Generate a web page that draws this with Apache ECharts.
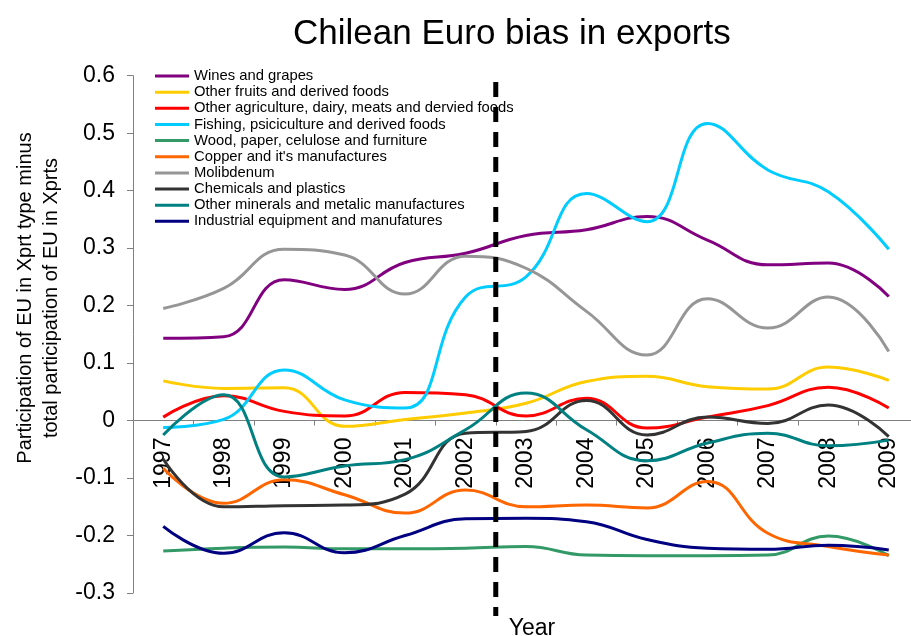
<!DOCTYPE html>
<html>
<head>
<meta charset="utf-8">
<script src="https://cdn.jsdelivr.net/npm/echarts@6/dist/echarts.min.js"></script>
<style>
html,body{margin:0;padding:0;background:#fff;}
#chart{width:911px;height:636px;}
</style>
</head>
<body>
<div id="chart"></div>
<script>
const years = ['1997','1998','1999','2000','2001','2002','2003','2004','2005','2006','2007','2008','2009'];
const yTicks = { min: -0.3, max: 0.6, interval: 0.1 };
const dividerBetween = ['2002', '2003'];

const winesAndGrapes   = [0.143, 0.146, 0.245, 0.228, 0.275, 0.291, 0.322, 0.332, 0.355, 0.314, 0.271, 0.274, 0.216];
const otherFruits      = [0.069, 0.056, 0.057, -0.010, 0.002, 0.013, 0.030, 0.068, 0.077, 0.059, 0.055, 0.093, 0.070];
const otherAgriculture = [0.006, 0.043, 0.016, 0.008, 0.049, 0.045, 0.008, 0.039, -0.013, 0.006, 0.026, 0.058, 0.022];
const fishing          = [-0.012, 0.002, 0.088, 0.036, 0.022, 0.215, 0.250, 0.395, 0.346, 0.517, 0.436, 0.398, 0.298];
const woodPaper        = [-0.227, -0.222, -0.220, -0.223, -0.223, -0.222, -0.219, -0.234, -0.235, -0.235, -0.234, -0.201, -0.235];
const copper           = [-0.083, -0.144, -0.103, -0.129, -0.161, -0.121, -0.150, -0.147, -0.152, -0.106, -0.196, -0.219, -0.234];
const molibdenum       = [0.195, 0.230, 0.298, 0.288, 0.220, 0.286, 0.265, 0.190, 0.114, 0.212, 0.161, 0.215, 0.120];
const chemicals        = [-0.067, -0.150, -0.148, -0.147, -0.128, -0.022, -0.019, 0.035, -0.025, 0.006, -0.005, 0.027, -0.028];
const otherMinerals    = [-0.025, 0.045, -0.098, -0.079, -0.068, -0.016, 0.048, -0.016, -0.070, -0.039, -0.022, -0.044, -0.034];
const industrialEquip  = [-0.184, -0.231, -0.195, -0.230, -0.200, -0.171, -0.170, -0.176, -0.207, -0.222, -0.224, -0.217, -0.225];

const seriesDefs = [
  ['Wines and grapes', winesAndGrapes, '#800080'],
  ['Other fruits and derived foods', otherFruits, '#FFCC00'],
  ['Other agriculture, dairy, meats and dervied foods', otherAgriculture, '#FF0000'],
  ['Fishing, psiciculture and derived foods', fishing, '#00CCFF'],
  ['Wood, paper, celulose and furniture', woodPaper, '#339966'],
  ["Copper and it's manufactures", copper, '#FF6600'],
  ['Molibdenum', molibdenum, '#969696'],
  ['Chemicals and plastics', chemicals, '#333333'],
  ['Other minerals and metalic manufactures', otherMinerals, '#008080'],
  ['Industrial equipment and manufatures', industrialEquip, '#000080']
];

const FONT = "'Liberation Sans', Arial, sans-serif";
const chart = echarts.init(document.getElementById('chart'));

const option = {
  animation: false,
  backgroundColor: '#ffffff',
  textStyle: { fontFamily: FONT },
  title: {
    text: 'Chilean Euro bias in exports',
    left: 293, top: 17, padding: 0,
    textStyle: { fontFamily: FONT, fontSize: 35, fontWeight: 'normal', color: '#000' }
  },
  legend: {
    orient: 'vertical',
    left: 155, top: 68, padding: 0,
    itemWidth: 34, itemHeight: 3, itemGap: 0.15,
    icon: 'rect',
    textStyle: { fontFamily: FONT, fontSize: 14.8, color: '#000', lineHeight: 16 },
    data: seriesDefs.map(d => d[0])
  },
  grid: { left: 133, top: 75.7, bottom: 43, right: -8, containLabel: false, outerBoundsMode: 'none' },
  xAxis: {
    type: 'category',
    data: years,
    boundaryGap: true,
    name: 'Year',
    nameLocation: 'middle',
    nameGap: 197,
    nameTextStyle: { fontFamily: FONT, fontSize: 23, color: '#000', padding: [0, 0, 0, 12] },
    axisLine: { show: true, onZero: false, lineStyle: { color: '#808080', width: 1 } },
    axisTick: { show: true, length: 5, alignWithLabel: false, lineStyle: { color: '#808080' } },
    axisLabel: { interval: 0, rotate: 90, margin: 17, fontFamily: FONT, fontSize: 23, color: '#000' },
    splitLine: { show: false }
  },
  yAxis: {
    type: 'value',
    min: yTicks.min, max: yTicks.max, interval: yTicks.interval,
    axisLine: { show: true, lineStyle: { color: '#808080', width: 1 } },
    axisTick: { show: true, length: 6, lineStyle: { color: '#808080' } },
    axisLabel: {
      margin: 18, fontFamily: FONT, fontSize: 23, color: '#000',
      formatter: v => String(Math.round(v * 10) / 10)
    },
    splitLine: { show: false }
  },
  series: seriesDefs.map(d => ({
    name: d[0], type: 'line', data: d[1], smooth: 0.45,
    showSymbol: false, symbol: 'none',
    lineStyle: { color: d[2], width: 3 },
    itemStyle: { color: d[2] },
    emphasis: { disabled: true }
  })),
  graphic: [{
    id: 'ytitle',
    type: 'text',
    x: 38, y: 298,
    rotation: Math.PI / 2,
    style: {
      text: 'Participation of EU in Xprt type minus\ntotal participation of EU in Xprts',
      fontFamily: FONT, fontSize: 20, lineHeight: 26,
      fill: '#000', align: 'center', verticalAlign: 'middle'
    }
  }]
};
chart.setOption(option);

// place the category axis on the zero line, using the value axis scale
const yZero = chart.convertToPixel({ yAxisIndex: 0 }, 0);
const yBottomPx = chart.convertToPixel({ yAxisIndex: 0 }, yTicks.min);
const xa = chart.convertToPixel({ xAxisIndex: 0 }, dividerBetween[0]);
const xb = chart.convertToPixel({ xAxisIndex: 0 }, dividerBetween[1]);
const px = (xa + xb) / 2;
const yTop = chart.convertToPixel({ yAxisIndex: 0 }, 0.589);
const yBot = chart.convertToPixel({ yAxisIndex: 0 }, -0.34);
chart.setOption({
  xAxis: { offset: -(yBottomPx - yZero) },
  graphic: [{
    id: 'divider',
    type: 'line',
    z: 100,
    shape: { x1: px, y1: yTop, x2: px, y2: yBot },
    style: { stroke: '#000', lineWidth: 5, lineDash: [15, 10] }
  }]
});
</script>
</body>
</html>
